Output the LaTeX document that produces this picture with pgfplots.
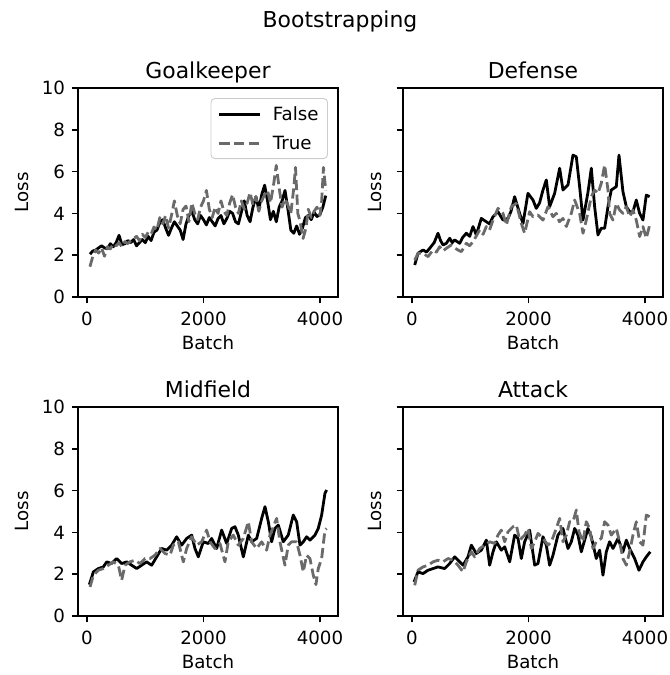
\documentclass[border=0pt]{standalone}
\usepackage{fontspec}
\setmainfont{DejaVu Sans}
\usepackage{pgfplots}
\pgfplotsset{compat=1.18}
\definecolor{truegray}{HTML}{6A6A6A}
\definecolor{legframe}{HTML}{CCCCCC}

\newcommand{\tickfont}{\fontsize{18.3}{22}\selectfont}
\newcommand{\titlefont}{\fontsize{22}{26}\selectfont}

\pgfplotsset{
  panel/.style={
    scale only axis,
    width=260bp, height=209bp,
    anchor=south west,
    xmin=-155, xmax=4310,
    ymin=0, ymax=10,
    xtick={0,2000,4000},
    ytick={0,2,4,6,8,10},
    tick align=outside,
    tick pos=left,
    major tick length=6.4bp,
    tick style={black, line width=1.46bp},
    axis line style={line width=1.46bp},
    /pgf/number format/assume math mode=true,
    /pgf/number format/1000 sep={},
    tick label style={font=\tickfont},
    xticklabel style={yshift=-5bp},
    yticklabel style={xshift=-3bp},
    label style={font=\tickfont},
    title style={font=\titlefont, at={(axis description cs:0.5,1)}, anchor=base, yshift=4bp},
    xlabel={Batch},
    ylabel={Loss},
    xlabel style={at={(axis description cs:0.5,0)}, anchor=base, yshift=-52.5bp},
    clip=true,
  },
  leftlabel/.style={ylabel style={at={(axis description cs:0,0.5)}, anchor=center, yshift=56bp}},
  rightlabel/.style={ylabel style={at={(axis description cs:0,0.5)}, anchor=center, yshift=28bp}},
  falseline/.style={black, line width=2.8bp, line join=round},
  trueline/.style={truegray, line width=2.8bp, line join=round, dash pattern=on 10.2bp off 4.4bp},
}

\begin{document}
\begin{tikzpicture}
\path[use as bounding box] (0,0) rectangle (670bp,675bp);

\node[font=\titlefont] at (340bp,654bp) {Bootstrapping};

%--- Goalkeeper
\begin{axis}[panel, leftlabel, at={(78bp,378bp)}, title={Goalkeeper},
  legend style={at={(0.9615,0.952)}, anchor=north east, draw=legframe, line width=0.9bp,
    rounded corners=4bp, fill=white, font=\tickfont, inner xsep=7bp, inner ysep=6bp,
    row sep=10bp, cells={anchor=west},
    /tikz/every odd column/.append style={column sep=9bp}},
  legend image code/.code={\draw[#1] (0bp,0bp) -- (41bp,0bp);},
]
\addplot[falseline] coordinates {
(50,2.05)(100,2.2)(150,2.25)(200,2.35)(250,2.45)(300,2.35)(350,2.3)(400,2.55)(450,2.4)(500,2.6)
(550,2.95)(600,2.5)(650,2.55)(700,2.7)(750,2.6)(800,2.75)(850,2.45)(900,2.6)(950,2.75)(1000,2.6)
(1050,2.9)(1100,2.7)(1150,3.1)(1200,3.2)(1250,3.55)(1300,3.7)(1350,3.3)(1400,2.95)(1450,3.3)(1500,3.6)
(1550,3.4)(1600,3.2)(1650,2.75)(1700,3.5)(1750,3.9)(1800,4.1)(1850,3.7)(1900,3.5)(1950,3.9)(2000,3.7)
(2050,3.45)(2100,3.8)(2150,3.6)(2200,3.4)(2250,3.75)(2300,3.9)(2350,3.5)(2400,3.75)(2450,4.1)(2500,4.0)
(2550,3.6)(2600,3.5)(2650,4.05)(2700,4.6)(2750,3.9)(2800,3.6)(2850,4.3)(2900,4.8)(2950,4.2)(3000,4.9)
(3050,5.35)(3100,4.6)(3150,3.7)(3200,4.1)(3250,3.6)(3300,4.3)(3350,4.6)(3400,5.1)(3450,4.2)(3500,3.2)
(3550,3.05)(3600,3.4)(3650,3.0)(3700,3.3)(3750,3.8)(3800,3.9)(3850,3.7)(3900,4.05)(3950,3.85)(4000,3.95)
(4050,4.3)(4100,4.85)
};
\addlegendentry{False}
\addplot[trueline] coordinates {
(50,1.45)(100,1.95)(150,2.25)(200,2.1)(250,2.35)(300,1.95)(350,2.4)(400,2.3)(450,2.55)(500,2.45)
(550,2.6)(600,2.4)(650,2.65)(700,2.55)(750,2.7)(800,2.8)(850,2.9)(900,2.7)(950,3.0)(1000,2.85)
(1050,3.1)(1100,3.0)(1150,3.35)(1200,3.2)(1250,3.8)(1300,3.5)(1350,3.9)(1400,3.3)(1450,3.9)(1500,4.6)
(1550,3.9)(1600,3.5)(1650,4.2)(1700,4.35)(1750,3.6)(1800,4.5)(1850,4.0)(1900,3.7)(1950,4.3)(2000,4.6)
(2050,5.1)(2100,4.2)(2150,3.8)(2200,4.3)(2250,4.0)(2300,4.6)(2350,4.1)(2400,3.9)(2450,4.5)(2500,4.9)
(2550,4.3)(2600,4.0)(2650,4.6)(2700,4.2)(2750,4.5)(2800,5.0)(2850,4.4)(2900,4.8)(2950,4.1)(3000,4.6)
(3050,4.9)(3100,5.1)(3150,4.5)(3200,5.3)(3250,6.3)(3300,5.2)(3350,4.3)(3400,4.7)(3450,4.4)(3500,4.0)
(3550,5.2)(3580,6.2)(3620,4.0)(3660,3.6)(3710,2.8)(3760,3.3)(3800,4.2)(3850,3.8)(3900,4.1)(3950,4.3)
(4000,3.9)(4030,4.6)(4060,6.2)(4100,5.1)
};
\addlegendentry{True}
\end{axis}

%--- Defense
\begin{axis}[panel, rightlabel, at={(403bp,378bp)}, title={Defense}, yticklabels={}]
\addplot[falseline] coordinates {
(46,1.53)(103,2.09)(189,2.25)(250,2.15)(303,2.33)(380,2.6)(446,3.05)(490,2.7)(532,2.49)(589,2.57)
(647,2.81)(690,2.6)(732,2.73)(818,2.57)(870,2.85)(933,3.05)(990,2.9)(1047,3.37)(1104,2.97)(1190,3.76)
(1276,3.60)(1330,3.5)(1391,3.84)(1476,4.08)(1562,3.68)(1648,3.76)(1700,4.1)(1762,4.80)(1848,4.00)(1906,3.52)
(1991,4.96)(2077,4.64)(2134,4.24)(2190,4.5)(2249,5.12)(2306,5.60)(2363,4.32)(2449,4.96)(2535,6.16)(2592,5.12)
(2678,5.36)(2764,6.79)(2821,6.71)(2878,5.28)(2936,3.68)(3021,5.00)(3079,6.16)(3136,4.32)(3193,2.97)(3250,3.29)
(3308,3.29)(3365,4.32)(3422,5.12)(3508,5.28)(3554,6.79)(3622,5.04)(3680,4.32)(3737,4.08)(3794,4.08)(3851,4.64)
(3909,4.00)(3966,3.68)(4023,4.88)(4080,4.80)
};
\addplot[trueline] coordinates {
(46,1.77)(103,2.09)(189,2.09)(275,1.93)(361,2.25)(420,2.15)(475,2.41)(530,2.2)(589,2.33)(675,2.49)
(730,2.35)(790,2.25)(847,2.17)(933,2.57)(990,2.45)(1047,2.65)(1100,2.9)(1162,3.21)(1220,3.0)(1276,3.37)
(1330,3.2)(1391,3.68)(1476,4.24)(1562,4.00)(1619,3.44)(1705,4.32)(1791,4.48)(1877,3.52)(1934,3.05)(2020,4.08)
(2077,3.84)(2163,3.92)(2249,3.68)(2335,4.32)(2421,3.84)(2478,4.00)(2530,3.6)(2592,3.76)(2650,3.37)(2735,4.00)
(2793,4.64)(2878,4.00)(2936,3.05)(2993,3.68)(3079,4.80)(3136,5.12)(3193,4.96)(3250,5.44)(3308,6.32)(3365,5.12)
(3393,4.00)(3451,3.68)(3508,4.48)(3565,4.16)(3622,4.00)(3680,4.32)(3737,3.84)(3794,4.16)(3851,3.68)(3909,2.89)
(3966,3.37)(4023,2.81)(4080,3.44)
};
\end{axis}

%--- Midfield
\begin{axis}[panel, leftlabel, at={(78bp,59bp)}, title={Midfield}]
\addplot[falseline] coordinates {
(40,1.50)(109,2.11)(195,2.27)(280,2.35)(338,2.59)(423,2.51)(509,2.75)(595,2.51)(681,2.59)(767,2.43)
(853,2.27)(938,2.43)(1024,2.59)(1110,2.43)(1196,2.83)(1282,3.23)(1368,3.15)(1454,3.39)(1539,3.79)(1625,3.39)
(1711,3.71)(1797,3.87)(1854,3.23)(1911,2.83)(1997,3.55)(2083,3.47)(2140,3.71)(2226,3.23)(2312,4.11)(2398,3.47)
(2484,4.19)(2541,4.27)(2598,3.87)(2684,2.83)(2770,3.87)(2827,3.55)(2913,3.71)(2999,4.67)(3056,5.23)(3113,4.51)
(3170,3.55)(3227,4.19)(3285,4.35)(3370,3.55)(3456,3.87)(3542,4.83)(3600,4.51)(3657,3.39)(3714,3.55)(3771,3.79)
(3828,3.63)(3914,3.87)(3971,4.19)(4029,4.83)(4086,5.87)(4114,6.03)
};
\addplot[trueline] coordinates {
(52,1.39)(109,1.95)(195,2.19)(280,2.27)(366,2.43)(452,2.59)(538,2.43)(595,1.71)(652,2.43)(738,2.59)
(824,2.67)(910,2.51)(996,2.75)(1082,2.75)(1167,2.91)(1253,3.23)(1339,2.99)(1425,2.91)(1482,3.39)(1568,3.55)
(1654,2.59)(1711,3.23)(1797,3.79)(1883,3.39)(1969,3.55)(2054,4.11)(2112,3.55)(2197,3.23)(2283,3.47)(2369,2.59)
(2426,3.55)(2512,3.87)(2598,3.39)(2684,3.71)(2770,4.51)(2827,3.55)(2913,3.23)(2999,3.55)(3084,3.15)(3142,3.87)
(3256,4.67)(3313,3.55)(3399,2.43)(3456,3.39)(3514,3.55)(3599,3.55)(3657,2.91)(3714,2.11)(3771,2.91)(3828,2.75)
(3886,1.95)(3931,1.50)(3971,2.27)(4029,2.75)(4086,4.11)(4114,4.19)
};
\end{axis}

%--- Attack
\begin{axis}[panel, rightlabel, at={(403bp,59bp)}, title={Attack}, yticklabels={}]
\addplot[falseline] coordinates {
(34,1.63)(103,2.11)(189,2.03)(275,2.19)(361,2.27)(446,2.35)(561,2.27)(647,2.51)(732,2.83)(818,2.59)
(876,2.43)(961,2.83)(1019,3.39)(1104,2.99)(1190,3.15)(1276,3.63)(1333,2.43)(1391,3.07)(1448,3.55)(1534,3.15)
(1591,3.31)(1677,2.59)(1762,3.87)(1820,3.71)(1877,2.75)(1934,3.55)(2020,4.11)(2106,2.43)(2163,2.51)(2249,3.79)
(2306,3.39)(2363,2.43)(2421,2.91)(2506,3.87)(2592,4.19)(2678,3.23)(2735,3.55)(2793,4.19)(2850,3.87)(2907,3.07)
(2964,3.63)(3021,4.19)(3079,3.79)(3164,2.75)(3222,3.15)(3279,1.95)(3336,3.07)(3393,3.55)(3451,3.23)(3537,3.71)
(3622,3.07)(3680,3.63)(3737,3.23)(3823,2.75)(3897,2.19)(3966,2.59)(4023,2.83)(4091,3.07)
};
\addplot[trueline] coordinates {
(46,1.47)(103,2.19)(189,2.35)(275,2.43)(361,2.59)(446,2.67)(532,2.59)(618,2.75)(704,2.67)(790,2.43)
(876,2.11)(933,2.59)(1019,3.07)(1076,2.83)(1162,3.23)(1248,3.39)(1333,3.55)(1419,3.47)(1476,3.87)(1534,4.11)
(1591,3.55)(1648,4.03)(1734,4.27)(1791,4.35)(1848,3.63)(1934,3.87)(1991,4.19)(2049,3.23)(2106,3.55)(2163,3.95)
(2249,3.71)(2335,3.39)(2392,3.55)(2478,4.19)(2535,4.67)(2592,3.55)(2650,3.87)(2707,4.51)(2764,4.51)(2821,5.07)
(2867,4.03)(2936,3.55)(2993,4.51)(3050,4.19)(3107,3.23)(3164,3.55)(3250,3.71)(3308,4.51)(3365,4.35)(3422,3.87)
(3508,4.19)(3565,3.55)(3622,2.75)(3680,2.43)(3737,3.07)(3794,3.87)(3851,4.51)(3909,3.55)(3966,3.39)(4023,4.83)
(4080,4.75)
};
\end{axis}
\end{tikzpicture}
\end{document}
